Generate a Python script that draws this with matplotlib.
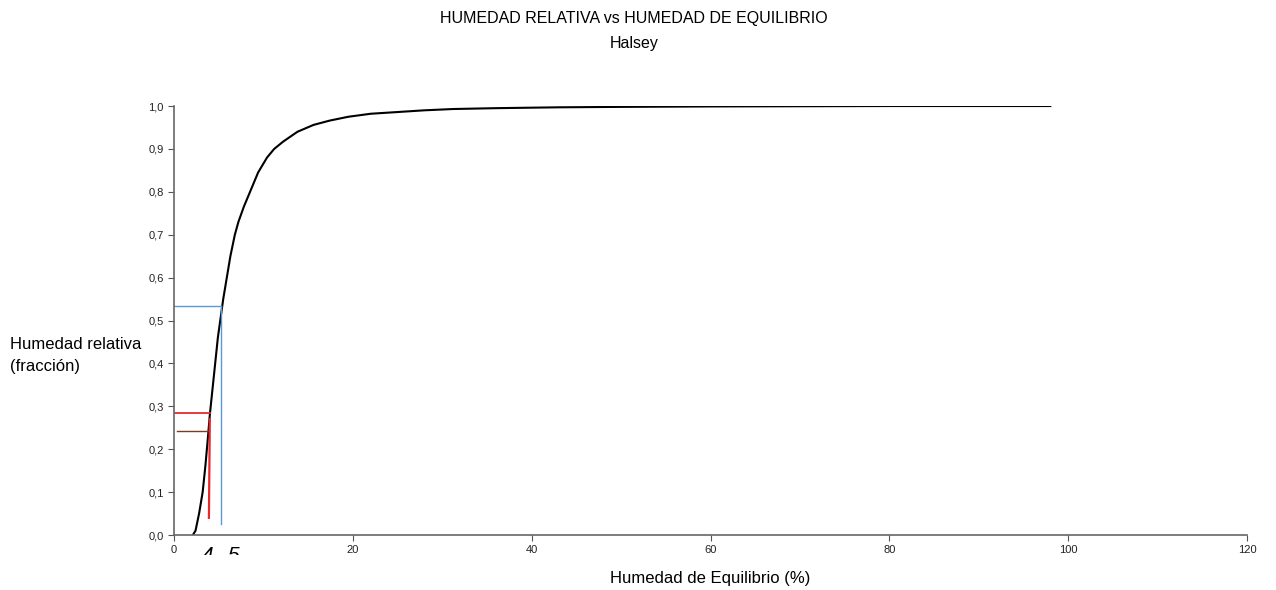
import matplotlib
matplotlib.use("Agg")
import matplotlib.pyplot as plt
from matplotlib.ticker import FuncFormatter
from matplotlib.transforms import Bbox

plt.rcParams['font.family'] = ['Liberation Sans', 'DejaVu Sans']

# Halsey curve
humedad_eq = [2.1, 2.4, 2.8, 3.2, 3.5, 3.8, 4.0, 4.4, 4.9, 5.3, 5.5, 5.9, 6.3, 6.8,
              7.2, 7.8, 8.5, 9.4, 10.4, 11.2, 12.2, 13.8, 15.6, 17.4, 19.5, 22.0,
              25.0, 28.0, 31.2, 36.0, 43.0, 50.0, 60.0, 70.0, 80.0, 98.0]
humedad_rel = [0.0, 0.01, 0.05, 0.10, 0.16, 0.23, 0.28, 0.36, 0.46, 0.52, 0.55, 0.60,
               0.65, 0.70, 0.73, 0.765, 0.80, 0.845, 0.88, 0.90, 0.917, 0.94, 0.956,
               0.966, 0.975, 0.982, 0.986, 0.990, 0.993, 0.995, 0.997, 0.998, 0.999,
               0.9995, 1.0, 1.0]

# guide lines (x, y pairs)
red_h = ([0, 4.0], [0.284, 0.284])
red_v = ([3.9, 4.0], [0.04, 0.27])
brown_h = ([0.3, 3.8], [0.242, 0.242])
blue_h = ([0, 5.3], [0.534, 0.534])
blue_v = ([5.3, 5.3], [0.025, 0.534])

fig = plt.figure(figsize=(12.76, 5.9), dpi=100)
ax = fig.add_axes([0.1364, 0.0932, 0.8409, 0.7271])

ax.plot(humedad_eq, humedad_rel, color='black', lw=1.5)
ax.plot(*red_h, color='#e8292b', lw=1.3)
ax.plot(*red_v, color='#e8292b', lw=1.6)
ax.plot(*brown_h, color='#7a3b1e', lw=1.0)
ax.plot(*blue_h, color='#5b9bd5', lw=1.0)
ax.plot(*blue_v, color='#5b9bd5', lw=1.0)

ax.set_xlim(0, 120)
ax.set_ylim(0, 1.0)
ax.set_xticks(range(0, 121, 20))
ax.set_yticks([i / 10 for i in range(11)])
ax.yaxis.set_major_formatter(FuncFormatter(lambda v, p: f"{v:.1f}".replace('.', ',')))
ax.tick_params(labelsize=8, length=4, color='#555555', labelcolor='#222222')
for s in ['top', 'right']:
    ax.spines[s].set_visible(False)
for s in ['left', 'bottom']:
    ax.spines[s].set_color('#666666')
    ax.spines[s].set_linewidth(1.2)

ax.set_xlabel('Humedad de Equilibrio (%)', fontsize=12, labelpad=11)
fig.text(0.008, 0.398, 'Humedad relativa\n(fracción)', fontsize=12, ha='left', va='center',
         linespacing=1.6)

fig.text(0.497, 0.968, 'HUMEDAD RELATIVA vs HUMEDAD DE EQUILIBRIO', ha='center', va='center',
         fontsize=11.5)
fig.text(0.497, 0.926, 'Halsey', ha='center', va='center', fontsize=11.5)

# partially cut-off numbers under the axis
for xv, lab in [(3.8, '4'), (6.6, '5')]:
    t = ax.text(xv, -0.025, lab, fontsize=15, style='italic', ha='center', va='top',
                clip_on=True)
    t.set_clip_box(Bbox.from_extents(0, 590 - 555, 1276, 590 - 538))

fig.savefig('out.png', dpi=100)
